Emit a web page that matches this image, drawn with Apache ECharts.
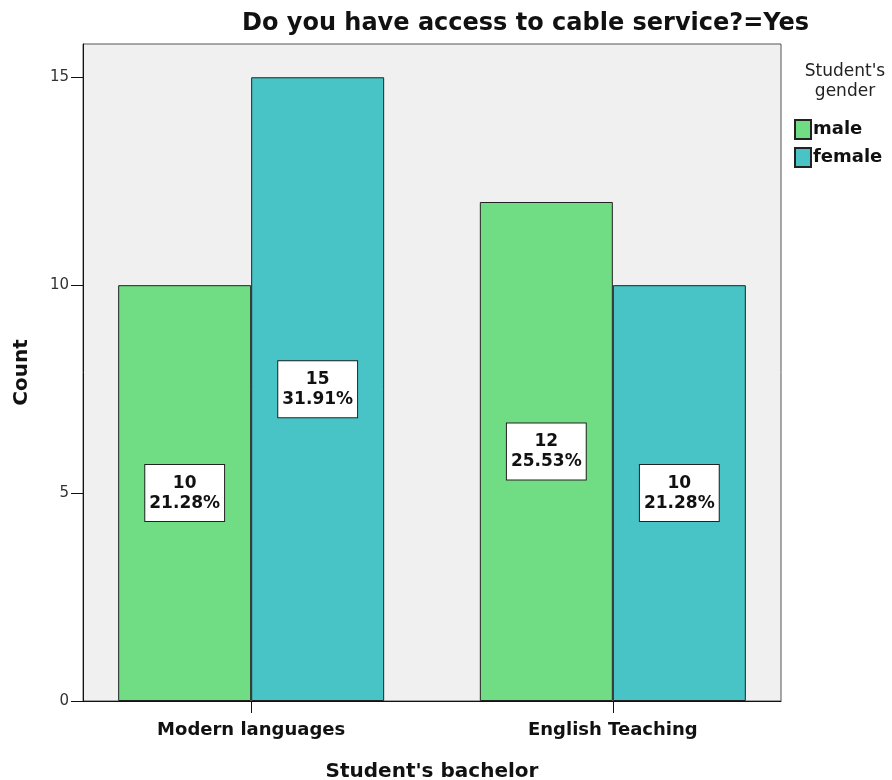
<!DOCTYPE html>
<html>
<head>
<meta charset="utf-8">
<script src="https://cdn.jsdelivr.net/npm/echarts@6/dist/echarts.min.js"></script>
<style>html,body{margin:0;padding:0;background:#fff;}#c{width:892px;height:780px;}</style>
</head>
<body>
<div id="c"></div>
<script>
const categories = ["Modern languages", "English Teaching"];
const categoryPositions = [0, 1];
const seriesNames = ["male", "female"];
const maleCounts = [10, 12];
const femaleCounts = [15, 10];
const malePercents = ["21.28%", "25.53%"];
const femalePercents = ["31.91%", "21.28%"];
const yTicks = [0, 5, 10, 15];

const chart = echarts.init(document.getElementById('c'), null, {renderer: 'canvas'});
const FONT = '"DejaVu Sans", Arial, sans-serif';

function makeLabel(percents, counts) {
  return {
    show: true,
    position: 'inside',
    formatter: p => counts[p.dataIndex] + '\n' + percents[p.dataIndex],
    backgroundColor: '#ffffff',
    borderColor: '#222',
    borderWidth: 1,
    padding: [8, 4],
    lineHeight: 20,
    fontSize: 17,
    fontWeight: 'bold',
    fontFamily: FONT,
    color: '#111',
    align: 'center'
  };
}

const option = {
  animation: false,
  backgroundColor: '#ffffff',
  title: [
    {
      text: 'Do you have access to cable service?=Yes',
      left: 237, top: 7,
      textStyle: {fontFamily: FONT, fontSize: 24, fontWeight: 'bold', color: '#111'}
    },
    {
      text: "Student's\ngender",
      left: 840, top: 57,
      textAlign: 'center',
      textStyle: {fontFamily: FONT, fontSize: 17, fontWeight: 'normal', color: '#222', lineHeight: 20}
    }
  ],
  legend: {
    orient: 'vertical',
    left: 789, top: 114,
    itemWidth: 16, itemHeight: 19, itemGap: 7,
    icon: 'rect',
    data: seriesNames,
    textStyle: {fontFamily: FONT, fontSize: 18, fontWeight: 'bold', color: '#111', padding: [0, 0, 0, -3]}
  },
  grid: {
    left: 83, right: 111, top: 44, bottom: 79,
    outerBoundsMode: 'none',
    containLabel: false,
    show: true, backgroundColor: '#f0f0f0', borderColor: '#555', borderWidth: 1
  },
  xAxis: {
    type: 'value',
    min: -0.465, max: 1.465,
    splitLine: {show: false},
    axisLine: {show: true, onZero: false, lineStyle: {color: '#111', width: 1}},
    axisTick: {show: true, customValues: categoryPositions, length: 12, inside: false, lineStyle: {color: '#111'}},
    axisLabel: {
      customValues: categoryPositions,
      formatter: v => categories[Math.round(v)] || '',
      fontFamily: FONT, fontSize: 18, fontWeight: 'bold', color: '#111', margin: 20
    },
    name: "Student's bachelor",
    nameLocation: 'middle',
    nameGap: 61,
    nameTextStyle: {fontFamily: FONT, fontSize: 20, fontWeight: 'bold', color: '#111'}
  },
  yAxis: {
    type: 'value',
    min: 0, max: 15.8,
    interval: 5,
    splitLine: {show: false},
    axisLine: {show: true, onZero: false, lineStyle: {color: '#111', width: 1}},
    axisTick: {show: true, customValues: yTicks, length: 12, lineStyle: {color: '#111'}},
    axisLabel: {
      customValues: yTicks,
      fontFamily: FONT, fontSize: 15, color: '#333', margin: 14
    },
    name: 'Count',
    nameLocation: 'middle',
    nameGap: 51,
    nameRotate: 90,
    nameTextStyle: {fontFamily: FONT, fontSize: 20, fontWeight: 'bold', color: '#111'}
  },
  series: [
    {
      name: seriesNames[0],
      type: 'bar',
      barWidth: 133,
      barGap: '0%',
      data: categoryPositions.map((x, i) => [x, maleCounts[i]]),
      itemStyle: {color: '#70dc84', borderColor: '#222', borderWidth: 1},
      label: makeLabel(malePercents, maleCounts)
    },
    {
      name: seriesNames[1],
      type: 'bar',
      barWidth: 133,
      barGap: '0%',
      data: categoryPositions.map((x, i) => [x, femaleCounts[i]]),
      itemStyle: {color: '#48c3c6', borderColor: '#222', borderWidth: 1},
      label: makeLabel(femalePercents, femaleCounts)
    }
  ]
};
chart.setOption(option);
</script>
</body>
</html>
